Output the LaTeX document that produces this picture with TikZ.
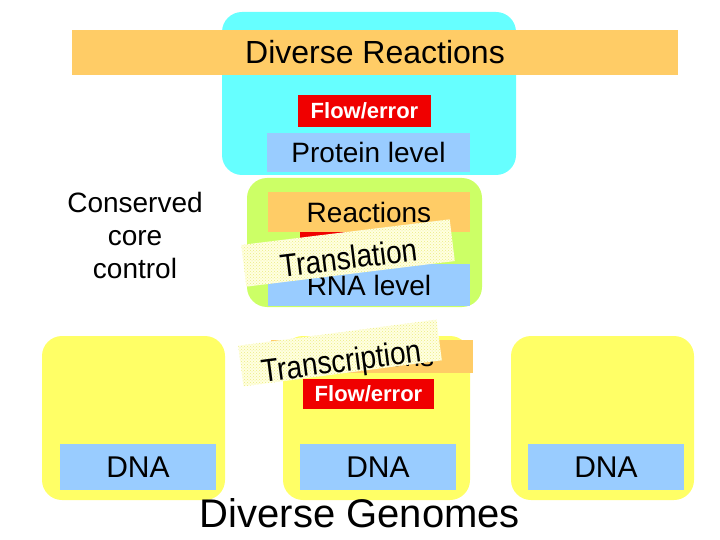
\documentclass[tikz,border=0pt]{standalone}
\usepackage{fontspec}
\setmainfont{Liberation Sans}
\usetikzlibrary{patterns}

\definecolor{cellcyan}{RGB}{102,255,255}
\definecolor{cellgreen}{RGB}{204,255,102}
\definecolor{cellyellow}{RGB}{255,255,102}
\definecolor{barorange}{RGB}{255,204,102}
\definecolor{levelblue}{RGB}{153,204,255}
\definecolor{flowred}{RGB}{240,0,0}
\definecolor{bandpale}{RGB}{255,255,225}
\definecolor{dotyellow}{RGB}{236,236,130}

\begin{document}
\begin{tikzpicture}[x=1pt,y=-1pt]
    \tikzstyle{every node}=[inner sep=0pt, font=\fontsize{28}{33}\selectfont]
    \tikzstyle{cell}=[rounded corners=20pt]
    \tikzstyle{flow}=[fill=flowred, text=white,
        font=\fontsize{22}{26}\selectfont\bfseries]
    \tikzstyle{band}=[fill=bandpale, text depth=0pt,
        postaction={pattern=crosshatch dots, pattern color=dotyellow}]
    \useasboundingbox (0,0) rectangle (720,540);

    % protein level
    \node[cell, fill=cellcyan, minimum width=294pt, minimum height=163pt]
        (protcell) at (369,93.5) {};
    \node[fill=barorange, minimum width=606pt, minimum height=45pt]
        (divreact) at (375,52.5) {\fontsize{32}{38}\selectfont Diverse Reactions};
    \node[flow, minimum width=133pt, minimum height=32pt]
        (protflow) at (364.5,111) {Flow/error};
    \node[fill=levelblue, minimum width=203pt, minimum height=39pt]
        (protein) at (368.5,152.5) {Protein level};

    \node[align=center] (core) at (135,235) {Conserved\\core\\control};

    % RNA level
    \node[cell, fill=cellgreen, minimum width=235pt, minimum height=129pt]
        (rnacell) at (364.5,242.5) {};
    \node[fill=barorange, minimum width=202pt, minimum height=40pt]
        (rnareact) at (369,212) {Reactions};
    \node[flow, minimum width=133pt, minimum height=30pt]
        (rnaflow) at (366.5,247) {Flow/error};
    \node[fill=levelblue, minimum width=202pt, minimum height=42pt]
        (rna) at (369,285) {RNA level};
    \node[band, rotate=7, text height=32pt, minimum width=210pt, minimum height=42pt]
        (translation) at (348,253) {\scalebox{1}[1.15]{Translation}};

    % DNA level
    \node[cell, fill=cellyellow, minimum width=183pt, minimum height=164pt]
        (leftcell) at (133.5,418) {};
    \node[cell, fill=cellyellow, minimum width=187pt, minimum height=164pt]
        (midcell) at (376.5,418) {};
    \node[cell, fill=cellyellow, minimum width=183pt, minimum height=164pt]
        (rightcell) at (602.5,418) {};
    \node[fill=levelblue, minimum width=156pt, minimum height=46pt]
        (leftdna) at (138,467) {\fontsize{30}{36}\selectfont DNA};
    \node[fill=levelblue, minimum width=156pt, minimum height=46pt]
        (middna) at (378,467) {\fontsize{30}{36}\selectfont DNA};
    \node[fill=levelblue, minimum width=156pt, minimum height=46pt]
        (rightdna) at (606,467) {\fontsize{30}{36}\selectfont DNA};
    \node[fill=barorange, minimum width=202pt, minimum height=33pt]
        (dnareact) at (372,356.5) {Reactions};
    \node[flow, minimum width=131pt, minimum height=30pt]
        (dnaflow) at (368.5,394) {Flow/error};
    \node[band, rotate=7.5, text height=38pt, minimum width=200pt, minimum height=41pt]
        (transcription) at (340,353) {\scalebox{1}[1.15]{Transcription}};

    \node (genomes) at (360,513) {\fontsize{40}{48}\selectfont Diverse Genomes};
\end{tikzpicture}
\end{document}
